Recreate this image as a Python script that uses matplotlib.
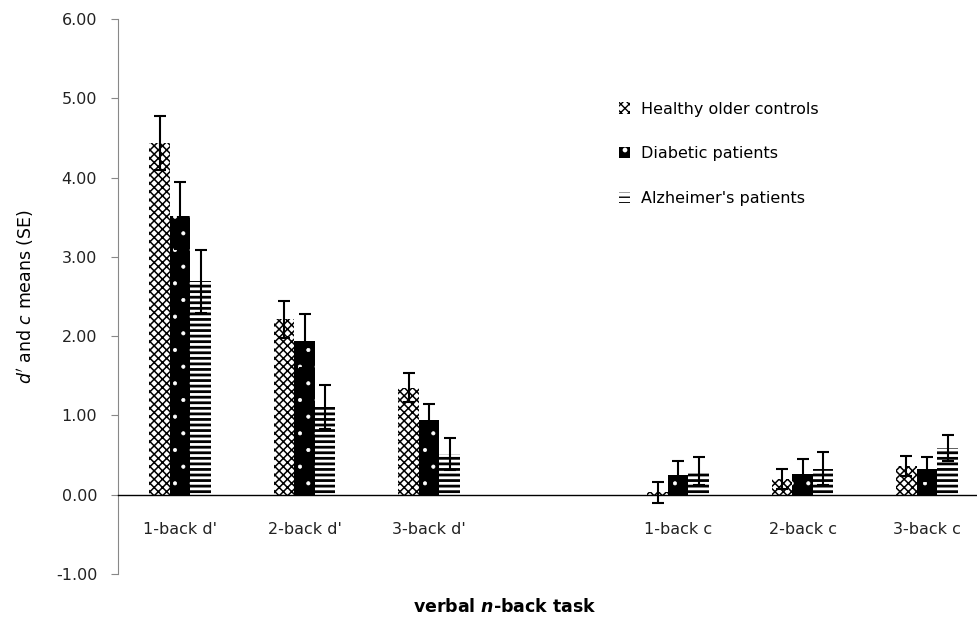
import numpy as np
import matplotlib.pyplot as plt

categories = ["1-back d'", "2-back d'", "3-back d'", "", "1-back c", "2-back c", "3-back c"]
groups = ["Healthy older controls", "Diabetic patients", "Alzheimer's patients"]

# means and standard errors per group (blank slot keeps the gap between d' and c)
healthy = [4.44, 2.21, 1.35, np.nan, 0.03, 0.20, 0.36]
healthy_se = [0.34, 0.23, 0.18, np.nan, 0.13, 0.13, 0.13]
diabetic = [3.52, 1.94, 0.94, np.nan, 0.25, 0.26, 0.32]
diabetic_se = [0.42, 0.34, 0.21, np.nan, 0.18, 0.19, 0.15]
alzheimer = [2.69, 1.11, 0.51, np.nan, 0.30, 0.33, 0.59]
alzheimer_se = [0.40, 0.28, 0.20, np.nan, 0.18, 0.21, 0.16]

yticks = np.arange(-1, 7, 1)

plt.rcParams['font.family'] = ['DejaVu Sans']
fig = plt.figure(figsize=(9.78, 6.22), dpi=100)
ax = fig.add_axes([118 / 978, 48 / 622, 1 - 118 / 978, 555 / 622])

x = np.arange(len(categories))
w = 0.165
styles = [
    dict(facecolor='white', edgecolor='black', hatch='xxxx', hlw=1.1),
    dict(facecolor='black', edgecolor='white', hatch='.', hlw=0.5),
    dict(facecolor='white', edgecolor='black', hatch='---', hlw=2.0),
]
series = [(healthy, healthy_se), (diabetic, diabetic_se), (alzheimer, alzheimer_se)]

handles = []
for i, ((vals, se), st) in enumerate(zip(series, styles)):
    with plt.rc_context({'hatch.linewidth': st['hlw']}):
        bars = ax.bar(x + (i - 1) * w, vals, w, facecolor=st['facecolor'],
                      edgecolor=st['edgecolor'], hatch=st['hatch'], linewidth=0,
                      label=groups[i])
        for b in bars:
            try:
                b.set_hatch_linewidth(st['hlw'])
            except AttributeError:
                pass
    ax.errorbar(x + (i - 1) * w, vals, yerr=se, fmt='none', ecolor='black',
                elinewidth=1.5, capsize=4.3, capthick=1.5)
    handles.append(bars)

ax.set_xlim(-0.5, 6.41)
ax.set_ylim(-1, 6)
ax.set_yticks(yticks)
ax.set_yticklabels([f"{v:.2f}" for v in yticks], fontsize=11.5, color='#222222')
ax.tick_params(axis='y', direction='out', length=5, color='#888888', pad=10)

ax.spines['top'].set_visible(False)
ax.spines['right'].set_visible(False)
ax.spines['left'].set_color('#888888')
ax.spines['bottom'].set_position(('data', 0))
ax.spines['bottom'].set_color('black')
ax.spines['bottom'].set_linewidth(1.0)

ax.set_xticks(x)
ax.set_xticklabels(categories, fontsize=11.5, color='#222222')
ax.tick_params(axis='x', length=0, pad=20)

ax.set_ylabel(r"$\mathit{d'}$ and $\mathit{c}$ means (SE)", fontsize=12.5, labelpad=14)
fig.text(505 / 978, 1 - 607 / 622, r"verbal $\mathbfit{n}$-back task", fontsize=12.5,
         fontweight='bold', ha='center', va='center')

leg = ax.legend(handles=handles, loc='upper left', bbox_to_anchor=(0.566, 0.877),
                frameon=False, fontsize=11.5, handlelength=0.7, handleheight=0.7,
                handletextpad=0.7, labelspacing=1.85)

fig.savefig('out.png', dpi=100)
